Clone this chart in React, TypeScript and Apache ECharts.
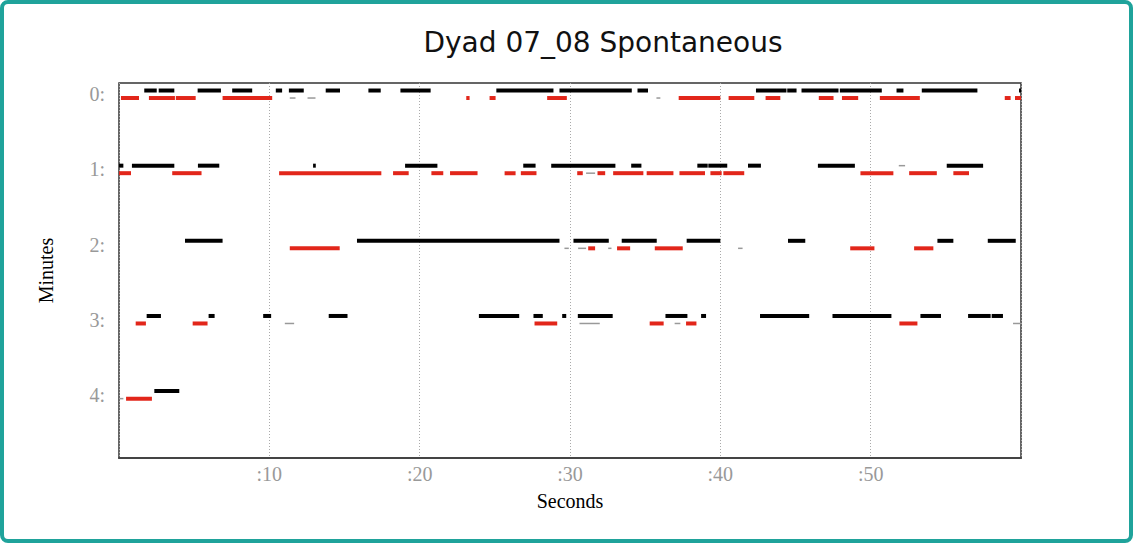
import React, { useEffect, useRef } from "react";
import * as echarts from "echarts";

const titleText = "Dyad 07_08 Spontaneous";
const minuteTicks = [0, 1, 2, 3, 4];
const secondTicks = [10, 20, 30, 40, 50];

// speaker A (black) segments per minute row: [startSec, endSec]
const blackRow0 = [[1.68,2.51],[2.64,3.68],[5.23,6.78],[7.53,8.86],[10.43,10.85],[11.30,12.29],[13.75,14.70],[16.59,17.41],[18.72,20.73],[25.10,28.90],[29.30,34.11],[34.49,35.19],[42.37,44.40],[44.45,45.07],[45.40,47.86],[47.95,50.74],[51.72,52.18],[53.40,57.10],[59.87,60]];
const blackRow1 = [[0,0.29],[0.86,3.68],[5.25,6.67],[12.91,13.09],[19.03,21.18],[26.89,27.71],[28.75,33.02],[34.07,34.75],[38.47,39.16],[39.20,40.46],[41.84,42.70],[46.49,48.95],[55.06,57.48]];
const blackRow2 = [[4.39,6.89],[15.83,29.30],[30.23,32.58],[33.44,35.77],[37.76,40.00],[44.50,45.65],[54.44,55.50],[57.79,59.65]];
const blackRow3 = [[1.84,2.79],[5.96,6.36],[9.59,10.12],[13.95,15.20],[23.94,26.62],[27.57,28.19],[29.48,29.75],[30.52,32.84],[36.35,37.81],[38.72,39.05],[42.64,45.91],[47.46,51.38],[53.31,54.68],[56.48,57.98],[58.05,58.80]];
const blackRow4 = [[2.35,4.01]];

// speaker B (red) segments per minute row
const redRow0 = [[0.13,1.33],[1.99,3.72],[3.78,5.10],[6.89,10.19],[23.10,23.32],[24.65,25.05],[28.48,29.79],[37.23,40.00],[40.55,42.26],[43.01,43.99],[46.55,47.53],[48.09,49.17],[50.61,53.27],[58.92,59.31],[59.60,60.00]];
const redRow1 = [[0,0.80],[3.54,5.49],[10.65,17.45],[18.23,19.27],[20.78,21.57],[22.02,23.85],[25.65,26.38],[26.73,27.77],[30.48,30.85],[31.83,32.34],[32.87,34.88],[35.10,36.88],[37.28,38.98],[39.34,40.09],[40.20,41.59],[49.32,51.51],[52.56,54.40],[55.50,56.54]];
const redRow2 = [[11.36,14.68],[31.21,31.67],[33.13,34.00],[35.64,37.50],[48.64,50.25],[52.89,54.17]];
const redRow3 = [[1.11,1.79],[4.90,5.89],[27.64,29.15],[35.30,36.23],[37.72,38.41],[51.91,53.11]];
const redRow4 = [[0.47,2.19]];

// short gray marks (upper = black level, lower = red level)
const grayUpperRow1 = [[51.87,52.29]];
const grayLowerRow0 = [[11.36,11.74],[12.54,13.07],[35.75,36.01]];
const grayLowerRow1 = [[31.07,31.67]];
const grayLowerRow2 = [[29.63,29.92],[30.54,31.07],[32.54,32.76],[41.18,41.48]];
const grayLowerRow3 = [[11.03,11.65],[30.63,31.98],[36.96,37.34],[59.47,60]];
const grayLowerRow4 = [[0.02,0.29]];

const blackRows = [blackRow0, blackRow1, blackRow2, blackRow3, blackRow4];
const redRows = [redRow0, redRow1, redRow2, redRow3, redRow4];
const grayLowerRows = [grayLowerRow0, grayLowerRow1, grayLowerRow2, grayLowerRow3, grayLowerRow4];
const grayUpperRows = [[], grayUpperRow1, [], [], []];

function build(rows: number[][][], offset: number) {
  const out: number[][] = [];
  rows.forEach((segs, r) => segs.forEach(([s, e]) => out.push([s, e, r + offset])));
  return out;
}

function makeRender(height: number, color: string) {
  return (params: any, api: any) => {
    const p1 = api.coord([api.value(0), api.value(2)]);
    const p2 = api.coord([api.value(1), api.value(2)]);
    return {
      type: "rect",
      shape: { x: p1[0], y: p1[1] - height / 2, width: Math.max(p2[0] - p1[0], 1), height },
      style: { fill: color },
    };
  };
}

export default function App() {
  const ref = useRef<HTMLDivElement>(null);
  useEffect(() => {
    document.body.style.margin = "0";
    const chart = echarts.init(ref.current!, null, { renderer: "svg" });
    const serif = "'Liberation Serif', 'DejaVu Serif', serif";
    chart.setOption({
      animation: false,
      backgroundColor: "#ffffff",
      graphic: [
        {
          type: "rect",
          shape: { x: 2, y: 2, width: 1129, height: 539, r: 6 },
          style: { fill: "none", stroke: "#1fa39b", lineWidth: 4 },
          silent: true,
        },
        {
          type: "text",
          style: {
            text: titleText,
            x: 603,
            y: 42,
            align: "center",
            verticalAlign: "middle",
            fontSize: 28,
            fontFamily: "'DejaVu Sans', sans-serif",
            fill: "#111",
          },
        },
      ],
      grid: {
        left: 119,
        top: 83,
        width: 902,
        height: 375,
        show: true,
        borderColor: "#333",
        borderWidth: 1.5,
      },
      xAxis: {
        type: "value",
        min: 0,
        max: 60,
        interval: 10,
        name: "Seconds",
        nameLocation: "middle",
        nameGap: 33,
        nameTextStyle: { fontFamily: serif, fontSize: 20, color: "#000" },
        axisLine: { show: true, onZero: false, lineStyle: { color: "#444", width: 2 } },
        axisTick: { show: false },
        axisLabel: {
          margin: 6,
          fontFamily: serif,
          fontSize: 20,
          color: "#999",
          formatter: (v: number) => (secondTicks.includes(v) ? ":" + v : ""),
        },
        splitLine: { show: true, lineStyle: { color: "#aaa", type: [1, 2], width: 1 } },
      },
      yAxis: {
        type: "value",
        inverse: true,
        min: -0.15,
        max: 4.84,
        name: "Minutes",
        nameLocation: "middle",
        nameGap: 63,
        nameRotate: 90,
        nameTextStyle: { fontFamily: serif, fontSize: 20, color: "#000" },
        axisLine: { show: false },
        axisTick: { show: false },
        splitLine: { show: false },
        axisLabel: {
          customValues: minuteTicks,
          margin: 14,
          fontFamily: serif,
          fontSize: 20,
          color: "#999",
          formatter: (v: number) => v + ":",
        },
      },
      series: [
        {
          type: "custom",
          renderItem: makeRender(4, "#000000"),
          encode: { x: [0, 1], y: 2 },
          data: build(blackRows, -0.05),
          clip: true,
        },
        {
          type: "custom",
          renderItem: makeRender(4, "#e2261a"),
          encode: { x: [0, 1], y: 2 },
          data: build(redRows, 0.05),
          clip: true,
        },
        {
          type: "custom",
          renderItem: makeRender(1.5, "#999999"),
          encode: { x: [0, 1], y: 2 },
          data: build(grayLowerRows, 0.05).concat(build(grayUpperRows, -0.05)),
          clip: true,
        },
      ],
    });
    return () => chart.dispose();
  }, []);
  return <div ref={ref} style={{ width: 1133, height: 543 }} />;
}
